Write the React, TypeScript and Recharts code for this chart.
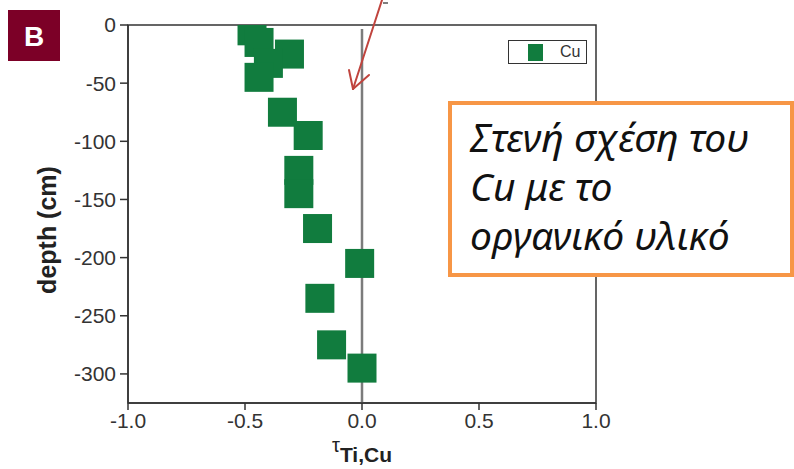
import React from 'react';
import {
  ScatterChart,
  Scatter,
  XAxis,
  YAxis,
  ReferenceLine,
  ReferenceArea,
  Legend,
  Label,
} from 'recharts';

// tau (Ti-normalised Cu) per sampled depth
const depths = [-5, -15, -25, -33, -45, -75, -95, -125, -145, -175, -205, -235, -275, -295];
const tauCu = [-0.47, -0.44, -0.31, -0.4, -0.44, -0.34, -0.23, -0.27, -0.27, -0.19, -0.01, -0.18, -0.13, 0.0];

const xTicks = [-1, -0.5, 0, 0.5, 1];
const yTicks = [0, -50, -100, -150, -200, -250, -300];

const noteLines = ['Στενή σχέση του', 'Cu με το', 'οργανικό υλικό'];

const GREEN = '#117c3e';
const AXIS = '#333333';
const FONT = '"Liberation Sans", Arial, sans-serif';
const SQUARE = 29;

const points = depths.map((d, i) => ({ x: tauCu[i], y: d }));

function SquareMark(props: any) {
  const { cx, cy } = props;
  if (cx == null || cy == null) return null;
  return <rect x={cx - SQUARE / 2} y={cy - SQUARE / 2} width={SQUARE} height={SQUARE} fill={GREEN} />;
}

function LegendBox() {
  return (
    <div
      style={{
        position: 'relative',
        width: 79,
        height: 24,
        boxSizing: 'border-box',
        border: `1.5px solid ${AXIS}`,
        background: '#fff',
        fontFamily: FONT,
      }}
    >
      <div style={{ position: 'absolute', left: 19, top: 2.5, width: 15, height: 17, background: GREEN }} />
      <div style={{ position: 'absolute', left: 51, top: 1, fontSize: 16, color: AXIS, lineHeight: '20px' }}>Cu</div>
    </div>
  );
}

export default function App() {
  return (
    <div style={{ position: 'absolute', left: 0, top: 0, width: 794, height: 469, background: '#fff' }}>
      <ScatterChart width={794} height={469} margin={{ top: 25, right: 198, bottom: 26, left: 48 }}>
        <XAxis
          type="number"
          dataKey="x"
          domain={[-1, 1]}
          ticks={xTicks}
          height={40}
          tickFormatter={(v: number) => v.toFixed(1)}
          tick={{ fill: AXIS, fontSize: 21, fontFamily: FONT }}
          tickSize={7}
          tickMargin={3}
          stroke={AXIS}
          strokeWidth={1.5}
        >
          <Label
            content={() => (
              <text x={362} y={462} textAnchor="middle" fontFamily={FONT} fill="#222">
                <tspan fontSize={20} dy={-10}>τ</tspan>
                <tspan fontSize={21} fontWeight="bold" dy={10}>Ti,Cu</tspan>
              </text>
            )}
          />
        </XAxis>
        <YAxis
          type="number"
          dataKey="y"
          domain={[-325, 0]}
          ticks={yTicks}
          allowDataOverflow
          width={80}
          tick={{ fill: AXIS, fontSize: 21, fontFamily: FONT }}
          tickSize={8}
          tickMargin={4}
          stroke={AXIS}
          strokeWidth={1.5}
        >
          <Label
            content={() => (
              <text
                x={56}
                y={230}
                transform="rotate(-90 56 230)"
                textAnchor="middle"
                fontFamily={FONT}
                fontSize={25}
                fontWeight="bold"
                fill="#222"
              >
                depth (cm)
              </text>
            )}
          />
        </YAxis>
        <ReferenceArea x1={-1} x2={1} y1={-325} y2={0} fill="none" stroke={AXIS} strokeWidth={1.5} ifOverflow="visible" />
        <ReferenceLine
          segment={[{ x: 0, y: -3.5 }, { x: 0, y: -325 }]}
          stroke="#7c7c7c"
          strokeWidth={2.5}
        />
        <Legend
          layout="horizontal"
          verticalAlign="middle"
          align="center"
          wrapperStyle={{ left: 508, top: 40, width: 79, height: 24 }}
          content={() => <LegendBox />}
        />
        <Scatter name="Cu" data={points} fill={GREEN} shape={SquareMark} isAnimationActive={false} />
      </ScatterChart>

      {/* panel badge and pointer arrow */}
      <svg width={794} height={469} style={{ position: 'absolute', left: 0, top: 0, pointerEvents: 'none' }}>
        <rect x={8} y={10} width={52} height={51} fill="#7c0027" />
        <text x={34} y={46} textAnchor="middle" fontFamily={FONT} fontSize={28} fontWeight="bold" fill="#fff">
          B
        </text>
        <line x1={383} y1={3} x2={388} y2={3} stroke="#555" strokeWidth={1.5} />
        <g stroke="#c0443e" strokeWidth={2} fill="none" strokeLinecap="round">
          <line x1={382} y1={0} x2={353} y2={89} />
          <line x1={353} y1={89} x2={349} y2={70} />
          <line x1={353} y1={89} x2={369} y2={75} />
        </g>
      </svg>

      <div
        style={{
          position: 'absolute',
          left: 448,
          top: 101,
          width: 346,
          height: 176,
          boxSizing: 'border-box',
          border: '4px solid #f79646',
          background: '#fff',
          fontFamily: '"Noto Sans", "Open Sans", sans-serif',
          fontStyle: 'italic',
          fontSize: 39,
          lineHeight: '49px',
          color: '#111',
          padding: '7px 0 0 18px',
        }}
      >
        {noteLines.map((line) => (
          <div key={line} style={{ whiteSpace: 'nowrap' }}>
            {line}
          </div>
        ))}
      </div>
    </div>
  );
}
